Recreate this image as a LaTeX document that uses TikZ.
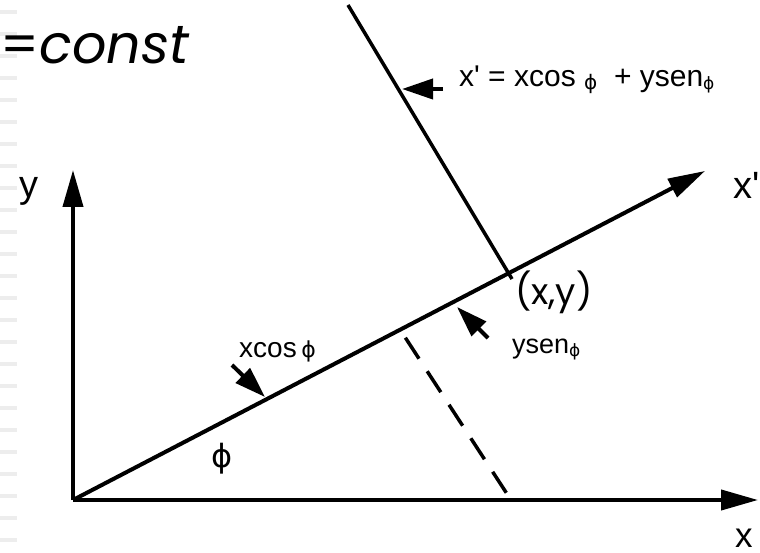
\documentclass[tikz,border=0pt]{standalone}
\usepackage{fontspec}
\setmainfont{Liberation Sans}
\newfontfamily\geo{Poppins}
\newfontfamily\phif{DejaVu Sans}
\usetikzlibrary{arrows.meta}
\newcommand{\myphi}[1]{{\phif\fontsize{#1}{#1}\selectfont ϕ}}
\begin{document}
\begin{tikzpicture}[x=1pt,y=-1pt,
  axis/.style={line width=4pt,-{Triangle[length=37pt,width=20pt]}},
  ptr/.style={line width=4pt,-{Triangle[length=31pt,width=20pt]}},
  lbl/.style={inner sep=0pt,anchor=base west},
  guide/.style={line width=4pt,color=black!7}]
\useasboundingbox (0,0) rectangle (760,553);
% faint margin marks
\foreach \k in {0,...,24} \draw[guide] (0,{12+22*\k}) -- (17,{12+22*\k});
% coordinates
\coordinate (O) at (73,500);
\coordinate (Ytip) at (73,170);
\coordinate (Xtip) at (758,500);
\coordinate (Xptip) at (705,171);
\coordinate (Ptop) at (348,5);
\coordinate (Pend) at (512,279);
\coordinate (Dtop) at (401,331);
\coordinate (Dbot) at (511,500);
% axes
\draw[axis] (O) -- (Ytip);
\draw[axis] (O) -- (Xtip);
\draw[axis] (O) -- (Xptip);
\draw[line width=3.5pt] (Ptop) -- (Pend);
\draw[line width=3.5pt,dash pattern=on 25pt off 15pt,dash phase=-8pt] (Dtop) -- (Dbot);
% small pointer arrows
\coordinate (eqtail) at (443,89);  \coordinate (eqtip) at (402,89);
\coordinate (ctail) at (232,365);  \coordinate (ctip) at (265,397);
\coordinate (stail) at (488,338);  \coordinate (stip) at (457,307);
\draw[ptr] (eqtail) -- (eqtip);
\draw[ptr] (ctail) -- (ctip);
\draw[ptr] (stail) -- (stip);
% texts
\node[lbl,font=\geo\fontsize{54}{60}\selectfont] (const) at (0,64) {=\textit{const}};
\node[lbl,font=\fontsize{30}{34}\selectfont] (eq) at (459,87)
  {x\textquotesingle{} = xcos \raisebox{-3pt}{\myphi{20}}\ \ + ysen\raisebox{-3pt}{\myphi{17}}};
\node[lbl,font=\fontsize{38}{42}\selectfont] (ylab) at (19,198) {y};
\node[lbl,font=\fontsize{38}{42}\selectfont] (xplab) at (733,199) {x\textquotesingle};
\node[lbl,font=\fontsize{35}{40}\selectfont] (xlab) at (735,547) {x};
\node[lbl,font=\geo\fontsize{36}{40}\selectfont] (pt) at (515,305) {(x,y)};
\node[lbl,font=\fontsize{28}{32}\selectfont] (xcos) at (239,357) {xcos\,\myphi{22}};
\node[lbl,font=\fontsize{27}{31}\selectfont] (ysen) at (512,353) {ysen\raisebox{-3pt}{\myphi{17}}};
\node[lbl] (phi) at (211,467) {\myphi{32}};
\end{tikzpicture}
\end{document}
